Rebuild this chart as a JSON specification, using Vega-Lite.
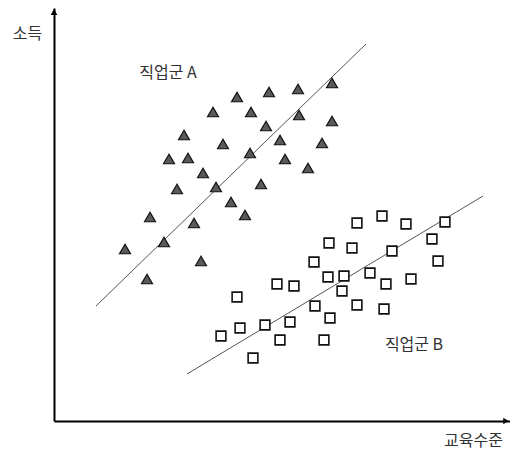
{
  "$schema": "https://vega.github.io/schema/vega-lite/v6.json",
  "width": 456,
  "height": 413,
  "autosize": {"type": "none"},
  "padding": {"left": 54, "top": 8, "right": 0, "bottom": 31},
  "background": "white",
  "config": {"view": {"stroke": null}, "font": "Noto Sans CJK KR"},
  "datasets": {
    "points": [
      {"group": "A", "x": 332, "y": 338}, {"group": "A", "x": 298, "y": 332}, {"group": "A", "x": 269, "y": 329},
      {"group": "A", "x": 237, "y": 324}, {"group": "A", "x": 213, "y": 309}, {"group": "A", "x": 251, "y": 309},
      {"group": "A", "x": 299, "y": 306}, {"group": "A", "x": 266, "y": 295}, {"group": "A", "x": 332, "y": 300},
      {"group": "A", "x": 184, "y": 286}, {"group": "A", "x": 280, "y": 281}, {"group": "A", "x": 223, "y": 277},
      {"group": "A", "x": 322, "y": 278}, {"group": "A", "x": 250, "y": 268}, {"group": "A", "x": 169, "y": 262},
      {"group": "A", "x": 188, "y": 263}, {"group": "A", "x": 285, "y": 262}, {"group": "A", "x": 203, "y": 248},
      {"group": "A", "x": 308, "y": 253}, {"group": "A", "x": 177, "y": 232}, {"group": "A", "x": 216, "y": 234},
      {"group": "A", "x": 261, "y": 237}, {"group": "A", "x": 231, "y": 219}, {"group": "A", "x": 245, "y": 206},
      {"group": "A", "x": 150, "y": 204}, {"group": "A", "x": 194, "y": 198}, {"group": "A", "x": 164, "y": 179},
      {"group": "A", "x": 125, "y": 172}, {"group": "A", "x": 201, "y": 160}, {"group": "A", "x": 147, "y": 142},
      {"group": "B", "x": 357, "y": 198}, {"group": "B", "x": 382, "y": 205}, {"group": "B", "x": 406, "y": 197},
      {"group": "B", "x": 445, "y": 199}, {"group": "B", "x": 329, "y": 178}, {"group": "B", "x": 352, "y": 173},
      {"group": "B", "x": 432, "y": 182}, {"group": "B", "x": 392, "y": 170}, {"group": "B", "x": 314, "y": 159},
      {"group": "B", "x": 438, "y": 160}, {"group": "B", "x": 328, "y": 144}, {"group": "B", "x": 344, "y": 145},
      {"group": "B", "x": 370, "y": 148}, {"group": "B", "x": 277, "y": 137}, {"group": "B", "x": 294, "y": 135},
      {"group": "B", "x": 386, "y": 137}, {"group": "B", "x": 411, "y": 142}, {"group": "B", "x": 342, "y": 130},
      {"group": "B", "x": 237, "y": 124}, {"group": "B", "x": 315, "y": 115}, {"group": "B", "x": 357, "y": 116},
      {"group": "B", "x": 384, "y": 112}, {"group": "B", "x": 330, "y": 103}, {"group": "B", "x": 290, "y": 99},
      {"group": "B", "x": 265, "y": 96}, {"group": "B", "x": 240, "y": 93}, {"group": "B", "x": 221, "y": 85},
      {"group": "B", "x": 280, "y": 81}, {"group": "B", "x": 324, "y": 81}, {"group": "B", "x": 253, "y": 63}
    ],
    "fits": [
      {"group": "A", "x": 96, "y": 115}, {"group": "A", "x": 366, "y": 377},
      {"group": "B", "x": 187, "y": 47}, {"group": "B", "x": 483, "y": 225}
    ],
    "labels": [
      {"label": "직업군 A", "x": 168, "y": 348},
      {"label": "직업군 B", "x": 414, "y": 76}
    ],
    "arrows": [
      {"dir": "up", "x": 54, "y": 409},
      {"dir": "right", "x": 506, "y": 0}
    ]
  },
  "encoding": {
    "x": {"field": "x", "type": "quantitative", "scale": {"domain": [54, 510], "nice": false, "zero": false},
      "axis": {"domain": true, "domainColor": "black", "domainWidth": 2, "ticks": false, "labels": false, "grid": false,
        "title": "교육수준", "titleFont": "Noto Sans CJK KR", "titleFontSize": 16, "titleFontWeight": "normal", "titleColor": "#333",
        "titleX": 419, "titleY": 19, "titleAlign": "center", "titleBaseline": "middle"}},
    "y": {"field": "y", "type": "quantitative", "scale": {"domain": [0, 413], "nice": false, "zero": false},
      "axis": {"domain": true, "domainColor": "black", "domainWidth": 2, "ticks": false, "labels": false, "grid": false,
        "title": "소득", "titleFont": "Noto Sans CJK KR", "titleFontSize": 16, "titleFontWeight": "normal", "titleColor": "#333",
        "titleAngle": 0, "titleX": -27, "titleY": 25, "titleAlign": "center", "titleBaseline": "middle"}}
  },
  "layer": [
    {
      "data": {"name": "fits"},
      "mark": {"type": "line", "color": "#555", "strokeWidth": 1},
      "encoding": {"detail": {"field": "group"}}
    },
    {
      "data": {"name": "points"},
      "transform": [{"filter": "datum.group == 'A'"}],
      "mark": {"type": "point", "shape": "triangle-up", "filled": true, "fill": "#5a5a5a", "stroke": "#111", "strokeWidth": 1.2, "size": 120, "opacity": 1}
    },
    {
      "data": {"name": "points"},
      "transform": [{"filter": "datum.group == 'B'"}],
      "mark": {"type": "point", "shape": "square", "filled": true, "fill": "white", "stroke": "#111", "strokeWidth": 1.6, "size": 95, "opacity": 1}
    },
    {
      "data": {"name": "labels"},
      "mark": {"type": "text", "font": "Noto Sans CJK KR", "fontSize": 16, "color": "#333", "align": "center", "baseline": "middle"},
      "encoding": {"text": {"field": "label"}}
    },
    {
      "data": {"name": "arrows"},
      "transform": [{"filter": "datum.dir == 'up'"}],
      "mark": {"type": "point", "shape": "triangle-up", "filled": true, "color": "black", "size": 45, "opacity": 1, "clip": false}
    },
    {
      "data": {"name": "arrows"},
      "transform": [{"filter": "datum.dir == 'right'"}],
      "mark": {"type": "point", "shape": "triangle-right", "filled": true, "color": "black", "size": 40, "opacity": 1, "clip": false}
    }
  ]
}
